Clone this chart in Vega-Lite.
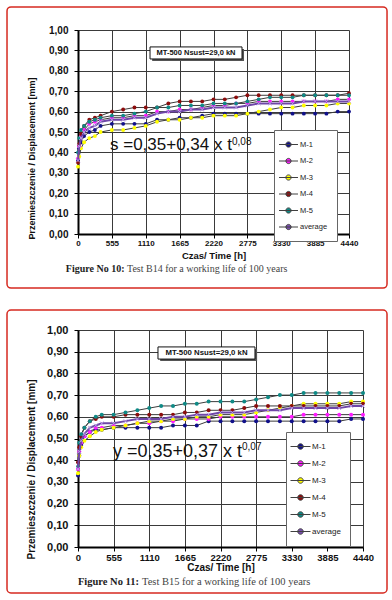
{
"$schema":"https://vega.github.io/schema/vega-lite/v6.json",
"background":"white",
"padding":{"left":6,"top":6,"right":0,"bottom":0},
"config":{"view":{"stroke":null},"font":"Liberation Sans","axis":{"grid":true,"gridColor":"#3a3a3a","gridWidth":1,"gridOpacity":1,"tickSize":4,"tickColor":"#000","domainColor":"#000","domainWidth":2,"labelOverlap":false,"labelFlush":false,"labelFontWeight":"bold","labelColor":"#111","titleFontWeight":"bold","titleColor":"#111"}},
"datasets":{
"b14":[
{"s":"M-1","t":0,"d":0.36},{"s":"M-1","t":20,"d":0.42},{"s":"M-1","t":50,"d":0.45},{"s":"M-1","t":100,"d":0.48},{"s":"M-1","t":185,"d":0.50},{"s":"M-1","t":277,"d":0.51},{"s":"M-1","t":370,"d":0.53},{"s":"M-1","t":555,"d":0.54},{"s":"M-1","t":740,"d":0.54},{"s":"M-1","t":925,"d":0.54},{"s":"M-1","t":1110,"d":0.54},{"s":"M-1","t":1295,"d":0.56},{"s":"M-1","t":1480,"d":0.56},{"s":"M-1","t":1665,"d":0.57},{"s":"M-1","t":1850,"d":0.57},{"s":"M-1","t":2035,"d":0.58},{"s":"M-1","t":2220,"d":0.59},{"s":"M-1","t":2405,"d":0.59},{"s":"M-1","t":2590,"d":0.59},{"s":"M-1","t":2775,"d":0.59},{"s":"M-1","t":2960,"d":0.59},{"s":"M-1","t":3145,"d":0.59},{"s":"M-1","t":3330,"d":0.59},{"s":"M-1","t":3515,"d":0.59},{"s":"M-1","t":3700,"d":0.59},{"s":"M-1","t":3885,"d":0.59},{"s":"M-1","t":4070,"d":0.59},{"s":"M-1","t":4255,"d":0.60},{"s":"M-1","t":4440,"d":0.60},
{"s":"M-2","t":0,"d":0.37},{"s":"M-2","t":20,"d":0.43},{"s":"M-2","t":50,"d":0.48},{"s":"M-2","t":100,"d":0.51},{"s":"M-2","t":185,"d":0.54},{"s":"M-2","t":277,"d":0.55},{"s":"M-2","t":370,"d":0.56},{"s":"M-2","t":555,"d":0.57},{"s":"M-2","t":740,"d":0.57},{"s":"M-2","t":925,"d":0.58},{"s":"M-2","t":1110,"d":0.58},{"s":"M-2","t":1295,"d":0.60},{"s":"M-2","t":1480,"d":0.60},{"s":"M-2","t":1665,"d":0.61},{"s":"M-2","t":1850,"d":0.61},{"s":"M-2","t":2035,"d":0.62},{"s":"M-2","t":2220,"d":0.63},{"s":"M-2","t":2405,"d":0.63},{"s":"M-2","t":2590,"d":0.64},{"s":"M-2","t":2775,"d":0.64},{"s":"M-2","t":2960,"d":0.65},{"s":"M-2","t":3145,"d":0.65},{"s":"M-2","t":3330,"d":0.65},{"s":"M-2","t":3515,"d":0.65},{"s":"M-2","t":3700,"d":0.65},{"s":"M-2","t":3885,"d":0.65},{"s":"M-2","t":4070,"d":0.65},{"s":"M-2","t":4255,"d":0.66},{"s":"M-2","t":4440,"d":0.66},
{"s":"M-3","t":0,"d":0.33},{"s":"M-3","t":20,"d":0.38},{"s":"M-3","t":50,"d":0.42},{"s":"M-3","t":100,"d":0.45},{"s":"M-3","t":185,"d":0.47},{"s":"M-3","t":277,"d":0.48},{"s":"M-3","t":370,"d":0.50},{"s":"M-3","t":555,"d":0.51},{"s":"M-3","t":740,"d":0.51},{"s":"M-3","t":925,"d":0.52},{"s":"M-3","t":1110,"d":0.53},{"s":"M-3","t":1295,"d":0.55},{"s":"M-3","t":1480,"d":0.56},{"s":"M-3","t":1665,"d":0.56},{"s":"M-3","t":1850,"d":0.57},{"s":"M-3","t":2035,"d":0.57},{"s":"M-3","t":2220,"d":0.58},{"s":"M-3","t":2405,"d":0.58},{"s":"M-3","t":2590,"d":0.58},{"s":"M-3","t":2775,"d":0.59},{"s":"M-3","t":2960,"d":0.60},{"s":"M-3","t":3145,"d":0.61},{"s":"M-3","t":3330,"d":0.62},{"s":"M-3","t":3515,"d":0.62},{"s":"M-3","t":3700,"d":0.63},{"s":"M-3","t":3885,"d":0.63},{"s":"M-3","t":4070,"d":0.63},{"s":"M-3","t":4255,"d":0.64},{"s":"M-3","t":4440,"d":0.64},
{"s":"M-4","t":0,"d":0.35},{"s":"M-4","t":20,"d":0.44},{"s":"M-4","t":50,"d":0.49},{"s":"M-4","t":100,"d":0.53},{"s":"M-4","t":185,"d":0.56},{"s":"M-4","t":277,"d":0.57},{"s":"M-4","t":370,"d":0.58},{"s":"M-4","t":555,"d":0.60},{"s":"M-4","t":740,"d":0.61},{"s":"M-4","t":925,"d":0.62},{"s":"M-4","t":1110,"d":0.62},{"s":"M-4","t":1295,"d":0.62},{"s":"M-4","t":1480,"d":0.64},{"s":"M-4","t":1665,"d":0.65},{"s":"M-4","t":1850,"d":0.65},{"s":"M-4","t":2035,"d":0.65},{"s":"M-4","t":2220,"d":0.66},{"s":"M-4","t":2405,"d":0.66},{"s":"M-4","t":2590,"d":0.67},{"s":"M-4","t":2775,"d":0.68},{"s":"M-4","t":2960,"d":0.68},{"s":"M-4","t":3145,"d":0.68},{"s":"M-4","t":3330,"d":0.68},{"s":"M-4","t":3515,"d":0.68},{"s":"M-4","t":3700,"d":0.68},{"s":"M-4","t":3885,"d":0.68},{"s":"M-4","t":4070,"d":0.68},{"s":"M-4","t":4255,"d":0.68},{"s":"M-4","t":4440,"d":0.69},
{"s":"M-5","t":0,"d":0.40},{"s":"M-5","t":20,"d":0.47},{"s":"M-5","t":50,"d":0.51},{"s":"M-5","t":100,"d":0.53},{"s":"M-5","t":185,"d":0.55},{"s":"M-5","t":277,"d":0.56},{"s":"M-5","t":370,"d":0.57},{"s":"M-5","t":555,"d":0.58},{"s":"M-5","t":740,"d":0.58},{"s":"M-5","t":925,"d":0.59},{"s":"M-5","t":1110,"d":0.60},{"s":"M-5","t":1295,"d":0.62},{"s":"M-5","t":1480,"d":0.62},{"s":"M-5","t":1665,"d":0.63},{"s":"M-5","t":1850,"d":0.63},{"s":"M-5","t":2035,"d":0.63},{"s":"M-5","t":2220,"d":0.64},{"s":"M-5","t":2405,"d":0.64},{"s":"M-5","t":2590,"d":0.64},{"s":"M-5","t":2775,"d":0.65},{"s":"M-5","t":2960,"d":0.66},{"s":"M-5","t":3145,"d":0.67},{"s":"M-5","t":3330,"d":0.67},{"s":"M-5","t":3515,"d":0.67},{"s":"M-5","t":3700,"d":0.68},{"s":"M-5","t":3885,"d":0.68},{"s":"M-5","t":4070,"d":0.68},{"s":"M-5","t":4255,"d":0.68},{"s":"M-5","t":4440,"d":0.68},
{"s":"average","t":0,"d":0.36},{"s":"average","t":20,"d":0.43},{"s":"average","t":50,"d":0.47},{"s":"average","t":100,"d":0.50},{"s":"average","t":185,"d":0.52},{"s":"average","t":277,"d":0.53},{"s":"average","t":370,"d":0.55},{"s":"average","t":555,"d":0.56},{"s":"average","t":740,"d":0.56},{"s":"average","t":925,"d":0.57},{"s":"average","t":1110,"d":0.57},{"s":"average","t":1295,"d":0.59},{"s":"average","t":1480,"d":0.60},{"s":"average","t":1665,"d":0.60},{"s":"average","t":1850,"d":0.61},{"s":"average","t":2035,"d":0.61},{"s":"average","t":2220,"d":0.62},{"s":"average","t":2405,"d":0.62},{"s":"average","t":2590,"d":0.62},{"s":"average","t":2775,"d":0.63},{"s":"average","t":2960,"d":0.64},{"s":"average","t":3145,"d":0.64},{"s":"average","t":3330,"d":0.64},{"s":"average","t":3515,"d":0.64},{"s":"average","t":3700,"d":0.65},{"s":"average","t":3885,"d":0.65},{"s":"average","t":4070,"d":0.65},{"s":"average","t":4255,"d":0.65},{"s":"average","t":4440,"d":0.65}
],
"b15":[
{"s":"M-1","t":0,"d":0.33},{"s":"M-1","t":20,"d":0.42},{"s":"M-1","t":50,"d":0.47},{"s":"M-1","t":100,"d":0.51},{"s":"M-1","t":185,"d":0.53},{"s":"M-1","t":277,"d":0.54},{"s":"M-1","t":370,"d":0.54},{"s":"M-1","t":555,"d":0.55},{"s":"M-1","t":740,"d":0.55},{"s":"M-1","t":925,"d":0.55},{"s":"M-1","t":1110,"d":0.55},{"s":"M-1","t":1295,"d":0.55},{"s":"M-1","t":1480,"d":0.56},{"s":"M-1","t":1665,"d":0.56},{"s":"M-1","t":1850,"d":0.56},{"s":"M-1","t":2035,"d":0.58},{"s":"M-1","t":2220,"d":0.58},{"s":"M-1","t":2405,"d":0.58},{"s":"M-1","t":2590,"d":0.58},{"s":"M-1","t":2775,"d":0.58},{"s":"M-1","t":2960,"d":0.58},{"s":"M-1","t":3145,"d":0.58},{"s":"M-1","t":3330,"d":0.58},{"s":"M-1","t":3515,"d":0.58},{"s":"M-1","t":3700,"d":0.58},{"s":"M-1","t":3885,"d":0.58},{"s":"M-1","t":4070,"d":0.58},{"s":"M-1","t":4255,"d":0.59},{"s":"M-1","t":4440,"d":0.59},
{"s":"M-2","t":0,"d":0.36},{"s":"M-2","t":20,"d":0.44},{"s":"M-2","t":50,"d":0.48},{"s":"M-2","t":100,"d":0.51},{"s":"M-2","t":185,"d":0.53},{"s":"M-2","t":277,"d":0.55},{"s":"M-2","t":370,"d":0.55},{"s":"M-2","t":555,"d":0.56},{"s":"M-2","t":740,"d":0.56},{"s":"M-2","t":925,"d":0.57},{"s":"M-2","t":1110,"d":0.57},{"s":"M-2","t":1295,"d":0.58},{"s":"M-2","t":1480,"d":0.58},{"s":"M-2","t":1665,"d":0.59},{"s":"M-2","t":1850,"d":0.59},{"s":"M-2","t":2035,"d":0.59},{"s":"M-2","t":2220,"d":0.60},{"s":"M-2","t":2405,"d":0.60},{"s":"M-2","t":2590,"d":0.60},{"s":"M-2","t":2775,"d":0.60},{"s":"M-2","t":2960,"d":0.60},{"s":"M-2","t":3145,"d":0.60},{"s":"M-2","t":3330,"d":0.60},{"s":"M-2","t":3515,"d":0.61},{"s":"M-2","t":3700,"d":0.61},{"s":"M-2","t":3885,"d":0.61},{"s":"M-2","t":4070,"d":0.61},{"s":"M-2","t":4255,"d":0.61},{"s":"M-2","t":4440,"d":0.61},
{"s":"M-3","t":0,"d":0.34},{"s":"M-3","t":20,"d":0.42},{"s":"M-3","t":50,"d":0.46},{"s":"M-3","t":100,"d":0.49},{"s":"M-3","t":185,"d":0.51},{"s":"M-3","t":277,"d":0.53},{"s":"M-3","t":370,"d":0.54},{"s":"M-3","t":555,"d":0.55},{"s":"M-3","t":740,"d":0.56},{"s":"M-3","t":925,"d":0.57},{"s":"M-3","t":1110,"d":0.58},{"s":"M-3","t":1295,"d":0.58},{"s":"M-3","t":1480,"d":0.59},{"s":"M-3","t":1665,"d":0.59},{"s":"M-3","t":1850,"d":0.60},{"s":"M-3","t":2035,"d":0.60},{"s":"M-3","t":2220,"d":0.61},{"s":"M-3","t":2405,"d":0.61},{"s":"M-3","t":2590,"d":0.61},{"s":"M-3","t":2775,"d":0.62},{"s":"M-3","t":2960,"d":0.63},{"s":"M-3","t":3145,"d":0.64},{"s":"M-3","t":3330,"d":0.65},{"s":"M-3","t":3515,"d":0.66},{"s":"M-3","t":3700,"d":0.66},{"s":"M-3","t":3885,"d":0.66},{"s":"M-3","t":4070,"d":0.66},{"s":"M-3","t":4255,"d":0.67},{"s":"M-3","t":4440,"d":0.67},
{"s":"M-4","t":0,"d":0.39},{"s":"M-4","t":20,"d":0.46},{"s":"M-4","t":50,"d":0.51},{"s":"M-4","t":100,"d":0.55},{"s":"M-4","t":185,"d":0.58},{"s":"M-4","t":277,"d":0.59},{"s":"M-4","t":370,"d":0.60},{"s":"M-4","t":555,"d":0.60},{"s":"M-4","t":740,"d":0.61},{"s":"M-4","t":925,"d":0.61},{"s":"M-4","t":1110,"d":0.61},{"s":"M-4","t":1295,"d":0.61},{"s":"M-4","t":1480,"d":0.61},{"s":"M-4","t":1665,"d":0.62},{"s":"M-4","t":1850,"d":0.62},{"s":"M-4","t":2035,"d":0.63},{"s":"M-4","t":2220,"d":0.63},{"s":"M-4","t":2405,"d":0.63},{"s":"M-4","t":2590,"d":0.64},{"s":"M-4","t":2775,"d":0.65},{"s":"M-4","t":2960,"d":0.65},{"s":"M-4","t":3145,"d":0.65},{"s":"M-4","t":3330,"d":0.65},{"s":"M-4","t":3515,"d":0.65},{"s":"M-4","t":3700,"d":0.65},{"s":"M-4","t":3885,"d":0.65},{"s":"M-4","t":4070,"d":0.65},{"s":"M-4","t":4255,"d":0.66},{"s":"M-4","t":4440,"d":0.66},
{"s":"M-5","t":0,"d":0.37},{"s":"M-5","t":20,"d":0.48},{"s":"M-5","t":50,"d":0.52},{"s":"M-5","t":100,"d":0.55},{"s":"M-5","t":185,"d":0.58},{"s":"M-5","t":277,"d":0.60},{"s":"M-5","t":370,"d":0.61},{"s":"M-5","t":555,"d":0.61},{"s":"M-5","t":740,"d":0.62},{"s":"M-5","t":925,"d":0.63},{"s":"M-5","t":1110,"d":0.64},{"s":"M-5","t":1295,"d":0.65},{"s":"M-5","t":1480,"d":0.65},{"s":"M-5","t":1665,"d":0.66},{"s":"M-5","t":1850,"d":0.66},{"s":"M-5","t":2035,"d":0.67},{"s":"M-5","t":2220,"d":0.67},{"s":"M-5","t":2405,"d":0.67},{"s":"M-5","t":2590,"d":0.67},{"s":"M-5","t":2775,"d":0.68},{"s":"M-5","t":2960,"d":0.69},{"s":"M-5","t":3145,"d":0.70},{"s":"M-5","t":3330,"d":0.70},{"s":"M-5","t":3515,"d":0.71},{"s":"M-5","t":3700,"d":0.71},{"s":"M-5","t":3885,"d":0.71},{"s":"M-5","t":4070,"d":0.71},{"s":"M-5","t":4255,"d":0.71},{"s":"M-5","t":4440,"d":0.71},
{"s":"average","t":0,"d":0.36},{"s":"average","t":20,"d":0.44},{"s":"average","t":50,"d":0.49},{"s":"average","t":100,"d":0.52},{"s":"average","t":185,"d":0.55},{"s":"average","t":277,"d":0.56},{"s":"average","t":370,"d":0.57},{"s":"average","t":555,"d":0.57},{"s":"average","t":740,"d":0.58},{"s":"average","t":925,"d":0.59},{"s":"average","t":1110,"d":0.59},{"s":"average","t":1295,"d":0.59},{"s":"average","t":1480,"d":0.60},{"s":"average","t":1665,"d":0.60},{"s":"average","t":1850,"d":0.61},{"s":"average","t":2035,"d":0.61},{"s":"average","t":2220,"d":0.62},{"s":"average","t":2405,"d":0.62},{"s":"average","t":2590,"d":0.62},{"s":"average","t":2775,"d":0.63},{"s":"average","t":2960,"d":0.63},{"s":"average","t":3145,"d":0.63},{"s":"average","t":3330,"d":0.64},{"s":"average","t":3515,"d":0.64},{"s":"average","t":3700,"d":0.64},{"s":"average","t":3885,"d":0.64},{"s":"average","t":4070,"d":0.64},{"s":"average","t":4255,"d":0.65},{"s":"average","t":4440,"d":0.65}
]
},
"spacing":20,
"resolve":{"scale":{"color":"independent"},"legend":{"color":"independent"}},
"vconcat":[
{
"width":271,"height":204,
"data":{"name":"b14"},
"layer":[
{"transform":[{"filter":"datum.s !== 'average'"}],"mark":{"type":"line","color":"#3c3c3c","strokeWidth":1},
 "encoding":{
  "x":{"field":"t","type":"quantitative","scale":{"domain":[0,4440],"nice":false,"zero":false},"axis":{"title":"Czas/ Time [h]","grid":true,"labelOverlap":false,"values":[0,555,1110,1665,2220,2775,3330,3885,4440],"format":"d","labelFontSize":8,"labelPadding":1,"titleFontSize":9.5,"titlePadding":3}},
  "y":{"field":"d","type":"quantitative","scale":{"domain":[0,1],"nice":false},"axis":{"title":"Przemieszczenie / Displacement [mm]","grid":true,"labelOverlap":false,"values":[0,0.1,0.2,0.3,0.4,0.5,0.6,0.7,0.8,0.9,1],"labelExpr":"replace(format(datum.value,'.2f'),'.',',')","labelFontSize":10,"labelPadding":6,"titleFontSize":9,"titlePadding":12,"titleY":128}},
  "detail":{"field":"s"}}},
{"data":{"values":[{}]},"mark":{"type":"rect","fill":"white","fillOpacity":0,"stroke":"#d62a20","strokeWidth":1.5,"cornerRadius":4},
 "encoding":{"x":{"datum":-1163,"type":"quantitative","axis":{"title":"Czas/ Time [h]","grid":true,"labelOverlap":false,"values":[0,555,1110,1665,2220,2775,3330,3885,4440],"format":"d","labelFontSize":8,"labelPadding":1,"titleFontSize":9.5,"titlePadding":3}},"x2":{"datum":5063},"y":{"datum":1.113,"type":"quantitative","axis":{"title":"Przemieszczenie / Displacement [mm]","grid":true,"labelOverlap":false,"values":[0,0.1,0.2,0.3,0.4,0.5,0.6,0.7,0.8,0.9,1],"labelExpr":"replace(format(datum.value,'.2f'),'.',',')","labelFontSize":10,"labelPadding":6,"titleFontSize":9,"titlePadding":12,"titleY":128}},"y2":{"datum":-0.265}}},
{"transform":[{"filter":"datum.s !== 'average'"}],"mark":{"type":"point","filled":true,"size":15,"opacity":1},
 "encoding":{"x":{"field":"t","type":"quantitative","axis":{"title":"Czas/ Time [h]","grid":true,"labelOverlap":false,"values":[0,555,1110,1665,2220,2775,3330,3885,4440],"format":"d","labelFontSize":8,"labelPadding":1,"titleFontSize":9.5,"titlePadding":3}},"y":{"field":"d","type":"quantitative","axis":{"title":"Przemieszczenie / Displacement [mm]","grid":true,"labelOverlap":false,"values":[0,0.1,0.2,0.3,0.4,0.5,0.6,0.7,0.8,0.9,1],"labelExpr":"replace(format(datum.value,'.2f'),'.',',')","labelFontSize":10,"labelPadding":6,"titleFontSize":9,"titlePadding":12,"titleY":128}},
  "color":{"field":"s","type":"nominal","scale":{"domain":["M-1","M-2","M-3","M-4","M-5","average"],"range":["#10108a","#ff1aff","#ffff00","#8b0d0d","#0f8a86","#7a4fb0"]},
   "legend":{"title":null,"orient":"none","legendX":196,"legendY":100,"strokeColor":"#666","fillColor":"white","padding":9,"symbolType":"M-2,0L2,0M-0.55,0A0.55,0.55,0,1,0,0.55,0A0.55,0.55,0,1,0,-0.55,0Z","symbolSize":90,"symbolStrokeColor":"#404040","symbolStrokeWidth":1,"rowPadding":5.5,"labelFontSize":7.5,"labelColor":"#222","labelOffset":6}}}},
{"transform":[{"filter":"datum.s === 'average'"}],"mark":{"type":"line","color":"#6f47a8","strokeWidth":2},
 "encoding":{"x":{"field":"t","type":"quantitative","axis":{"title":"Czas/ Time [h]","grid":true,"labelOverlap":false,"values":[0,555,1110,1665,2220,2775,3330,3885,4440],"format":"d","labelFontSize":8,"labelPadding":1,"titleFontSize":9.5,"titlePadding":3}},"y":{"field":"d","type":"quantitative","axis":{"title":"Przemieszczenie / Displacement [mm]","grid":true,"labelOverlap":false,"values":[0,0.1,0.2,0.3,0.4,0.5,0.6,0.7,0.8,0.9,1],"labelExpr":"replace(format(datum.value,'.2f'),'.',',')","labelFontSize":10,"labelPadding":6,"titleFontSize":9,"titlePadding":12,"titleY":128}}}},
{"transform":[{"filter":"datum.s === 'average'"}],"mark":{"type":"point","shape":"M-1,-1L1,1M-1,1L1,-1","filled":false,"stroke":"#b89be6","strokeWidth":1,"size":14,"opacity":1},
 "encoding":{"x":{"field":"t","type":"quantitative","axis":{"title":"Czas/ Time [h]","grid":true,"labelOverlap":false,"values":[0,555,1110,1665,2220,2775,3330,3885,4440],"format":"d","labelFontSize":8,"labelPadding":1,"titleFontSize":9.5,"titlePadding":3}},"y":{"field":"d","type":"quantitative","axis":{"title":"Przemieszczenie / Displacement [mm]","grid":true,"labelOverlap":false,"values":[0,0.1,0.2,0.3,0.4,0.5,0.6,0.7,0.8,0.9,1],"labelExpr":"replace(format(datum.value,'.2f'),'.',',')","labelFontSize":10,"labelPadding":6,"titleFontSize":9,"titlePadding":12,"titleY":128}}}},
{"data":{"values":[{}]},"mark":{"type":"rect","fill":"#555","stroke":null},
 "encoding":{"x":{"datum":1215,"type":"quantitative","axis":{"title":"Czas/ Time [h]","grid":true,"labelOverlap":false,"values":[0,555,1110,1665,2220,2775,3330,3885,4440],"format":"d","labelFontSize":8,"labelPadding":1,"titleFontSize":9.5,"titlePadding":3}},"x2":{"datum":2720},"y":{"datum":0.907,"type":"quantitative","axis":{"title":"Przemieszczenie / Displacement [mm]","grid":true,"labelOverlap":false,"values":[0,0.1,0.2,0.3,0.4,0.5,0.6,0.7,0.8,0.9,1],"labelExpr":"replace(format(datum.value,'.2f'),'.',',')","labelFontSize":10,"labelPadding":6,"titleFontSize":9,"titlePadding":12,"titleY":128}},"y2":{"datum":0.848}}},
{"data":{"values":[{}]},"mark":{"type":"rect","fill":"white","stroke":"#111","strokeWidth":1},
 "encoding":{"x":{"datum":1180,"type":"quantitative","axis":{"title":"Czas/ Time [h]","grid":true,"labelOverlap":false,"values":[0,555,1110,1665,2220,2775,3330,3885,4440],"format":"d","labelFontSize":8,"labelPadding":1,"titleFontSize":9.5,"titlePadding":3}},"x2":{"datum":2687},"y":{"datum":0.917,"type":"quantitative","axis":{"title":"Przemieszczenie / Displacement [mm]","grid":true,"labelOverlap":false,"values":[0,0.1,0.2,0.3,0.4,0.5,0.6,0.7,0.8,0.9,1],"labelExpr":"replace(format(datum.value,'.2f'),'.',',')","labelFontSize":10,"labelPadding":6,"titleFontSize":9,"titlePadding":12,"titleY":128}},"y2":{"datum":0.858}}},
{"data":{"values":[{}]},"mark":{"type":"text","text":"MT-500  Nsust=29,0 kN","fontSize":7.5,"fontWeight":"bold","color":"#111","align":"center","baseline":"middle"},
 "encoding":{"x":{"datum":1933,"type":"quantitative","axis":{"title":"Czas/ Time [h]","grid":true,"labelOverlap":false,"values":[0,555,1110,1665,2220,2775,3330,3885,4440],"format":"d","labelFontSize":8,"labelPadding":1,"titleFontSize":9.5,"titlePadding":3}},"y":{"datum":0.887,"type":"quantitative","axis":{"title":"Przemieszczenie / Displacement [mm]","grid":true,"labelOverlap":false,"values":[0,0.1,0.2,0.3,0.4,0.5,0.6,0.7,0.8,0.9,1],"labelExpr":"replace(format(datum.value,'.2f'),'.',',')","labelFontSize":10,"labelPadding":6,"titleFontSize":9,"titlePadding":12,"titleY":128}}}},
{"data":{"values":[{}]},"mark":{"type":"text","text":"s =0,35+0,34 x t","fontSize":17,"color":"#111","align":"left","baseline":"alphabetic"},
 "encoding":{"x":{"datum":524,"type":"quantitative","axis":{"title":"Czas/ Time [h]","grid":true,"labelOverlap":false,"values":[0,555,1110,1665,2220,2775,3330,3885,4440],"format":"d","labelFontSize":8,"labelPadding":1,"titleFontSize":9.5,"titlePadding":3}},"y":{"datum":0.412,"type":"quantitative","axis":{"title":"Przemieszczenie / Displacement [mm]","grid":true,"labelOverlap":false,"values":[0,0.1,0.2,0.3,0.4,0.5,0.6,0.7,0.8,0.9,1],"labelExpr":"replace(format(datum.value,'.2f'),'.',',')","labelFontSize":10,"labelPadding":6,"titleFontSize":9,"titlePadding":12,"titleY":128}}}},
{"data":{"values":[{}]},"mark":{"type":"text","text":"0,08","fontSize":10,"color":"#111","align":"left","baseline":"alphabetic"},
 "encoding":{"x":{"datum":2523,"type":"quantitative","axis":{"title":"Czas/ Time [h]","grid":true,"labelOverlap":false,"values":[0,555,1110,1665,2220,2775,3330,3885,4440],"format":"d","labelFontSize":8,"labelPadding":1,"titleFontSize":9.5,"titlePadding":3}},"y":{"datum":0.436,"type":"quantitative","axis":{"title":"Przemieszczenie / Displacement [mm]","grid":true,"labelOverlap":false,"values":[0,0.1,0.2,0.3,0.4,0.5,0.6,0.7,0.8,0.9,1],"labelExpr":"replace(format(datum.value,'.2f'),'.',',')","labelFontSize":10,"labelPadding":6,"titleFontSize":9,"titlePadding":12,"titleY":128}}}},
{"data":{"values":[{}]},"mark":{"type":"text","text":"Figure No 10:","font":"Liberation Serif","fontSize":10,"fontWeight":"bold","color":"#222","align":"right","baseline":"middle"},
 "encoding":{"x":{"datum":762,"type":"quantitative","axis":{"title":"Czas/ Time [h]","grid":true,"labelOverlap":false,"values":[0,555,1110,1665,2220,2775,3330,3885,4440],"format":"d","labelFontSize":8,"labelPadding":1,"titleFontSize":9.5,"titlePadding":3}},"y":{"datum":-0.172,"type":"quantitative","axis":{"title":"Przemieszczenie / Displacement [mm]","grid":true,"labelOverlap":false,"values":[0,0.1,0.2,0.3,0.4,0.5,0.6,0.7,0.8,0.9,1],"labelExpr":"replace(format(datum.value,'.2f'),'.',',')","labelFontSize":10,"labelPadding":6,"titleFontSize":9,"titlePadding":12,"titleY":128}}}},
{"data":{"values":[{}]},"mark":{"type":"text","text":"Test B14 for a working life of 100 years","font":"Liberation Serif","fontSize":10,"color":"#444","align":"left","baseline":"middle"},
 "encoding":{"x":{"datum":803,"type":"quantitative","axis":{"title":"Czas/ Time [h]","grid":true,"labelOverlap":false,"values":[0,555,1110,1665,2220,2775,3330,3885,4440],"format":"d","labelFontSize":8,"labelPadding":1,"titleFontSize":9.5,"titlePadding":3}},"y":{"datum":-0.172,"type":"quantitative","axis":{"title":"Przemieszczenie / Displacement [mm]","grid":true,"labelOverlap":false,"values":[0,0.1,0.2,0.3,0.4,0.5,0.6,0.7,0.8,0.9,1],"labelExpr":"replace(format(datum.value,'.2f'),'.',',')","labelFontSize":10,"labelPadding":6,"titleFontSize":9,"titlePadding":12,"titleY":128}}}}
]
},
{
"width":285,"height":217,
"data":{"name":"b15"},
"layer":[
{"transform":[{"filter":"datum.s !== 'average'"}],"mark":{"type":"line","color":"#3c3c3c","strokeWidth":1},
 "encoding":{
  "x":{"field":"t","type":"quantitative","scale":{"domain":[0,4440],"nice":false,"zero":false},"axis":{"title":"Czas/ Time [h]","grid":true,"labelOverlap":false,"values":[0,555,1110,1665,2220,2775,3330,3885,4440],"format":"d","labelFontSize":9.5,"labelPadding":1,"titleFontSize":10,"titlePadding":1}},
  "y":{"field":"d","type":"quantitative","scale":{"domain":[0,1],"nice":false},"axis":{"title":"Przemieszczenie / Displacement [mm]","grid":true,"labelOverlap":false,"values":[0,0.1,0.2,0.3,0.4,0.5,0.6,0.7,0.8,0.9,1],"labelExpr":"replace(format(datum.value,'.2f'),'.',',')","labelFontSize":11,"labelPadding":6,"titleFontSize":10,"titlePadding":10,"titleY":139}},
  "detail":{"field":"s"}}},
{"data":{"values":[{}]},"mark":{"type":"rect","fill":"white","fillOpacity":0,"stroke":"#d62a20","strokeWidth":1.5,"cornerRadius":4},
 "encoding":{"x":{"datum":-1106,"type":"quantitative","axis":{"title":"Czas/ Time [h]","grid":true,"labelOverlap":false,"values":[0,555,1110,1665,2220,2775,3330,3885,4440],"format":"d","labelFontSize":9.5,"labelPadding":1,"titleFontSize":10,"titlePadding":1}},"x2":{"datum":4814},"y":{"datum":1.092,"type":"quantitative","axis":{"title":"Przemieszczenie / Displacement [mm]","grid":true,"labelOverlap":false,"values":[0,0.1,0.2,0.3,0.4,0.5,0.6,0.7,0.8,0.9,1],"labelExpr":"replace(format(datum.value,'.2f'),'.',',')","labelFontSize":11,"labelPadding":6,"titleFontSize":10,"titlePadding":10,"titleY":139}},"y2":{"datum":-0.212}}},
{"transform":[{"filter":"datum.s !== 'average'"}],"mark":{"type":"point","filled":true,"size":16,"opacity":1},
 "encoding":{"x":{"field":"t","type":"quantitative","axis":{"title":"Czas/ Time [h]","grid":true,"labelOverlap":false,"values":[0,555,1110,1665,2220,2775,3330,3885,4440],"format":"d","labelFontSize":9.5,"labelPadding":1,"titleFontSize":10,"titlePadding":1}},"y":{"field":"d","type":"quantitative","axis":{"title":"Przemieszczenie / Displacement [mm]","grid":true,"labelOverlap":false,"values":[0,0.1,0.2,0.3,0.4,0.5,0.6,0.7,0.8,0.9,1],"labelExpr":"replace(format(datum.value,'.2f'),'.',',')","labelFontSize":11,"labelPadding":6,"titleFontSize":10,"titlePadding":10,"titleY":139}},
  "color":{"field":"s","type":"nominal","scale":{"domain":["M-1","M-2","M-3","M-4","M-5","average"],"range":["#10108a","#ff1aff","#ffff00","#8b0d0d","#0f8a86","#7a4fb0"]},
   "legend":{"title":null,"orient":"none","legendX":208,"legendY":102,"strokeColor":"#666","fillColor":"white","padding":9,"symbolType":"M-2,0L2,0M-0.55,0A0.55,0.55,0,1,0,0.55,0A0.55,0.55,0,1,0,-0.55,0Z","symbolSize":100,"symbolStrokeColor":"#404040","symbolStrokeWidth":1,"rowPadding":6,"labelFontSize":8,"labelColor":"#222","labelOffset":6}}}},
{"transform":[{"filter":"datum.s === 'average'"}],"mark":{"type":"line","color":"#6f47a8","strokeWidth":2},
 "encoding":{"x":{"field":"t","type":"quantitative","axis":{"title":"Czas/ Time [h]","grid":true,"labelOverlap":false,"values":[0,555,1110,1665,2220,2775,3330,3885,4440],"format":"d","labelFontSize":9.5,"labelPadding":1,"titleFontSize":10,"titlePadding":1}},"y":{"field":"d","type":"quantitative","axis":{"title":"Przemieszczenie / Displacement [mm]","grid":true,"labelOverlap":false,"values":[0,0.1,0.2,0.3,0.4,0.5,0.6,0.7,0.8,0.9,1],"labelExpr":"replace(format(datum.value,'.2f'),'.',',')","labelFontSize":11,"labelPadding":6,"titleFontSize":10,"titlePadding":10,"titleY":139}}}},
{"transform":[{"filter":"datum.s === 'average'"}],"mark":{"type":"point","shape":"M-1,-1L1,1M-1,1L1,-1","filled":false,"stroke":"#b89be6","strokeWidth":1,"size":14,"opacity":1},
 "encoding":{"x":{"field":"t","type":"quantitative","axis":{"title":"Czas/ Time [h]","grid":true,"labelOverlap":false,"values":[0,555,1110,1665,2220,2775,3330,3885,4440],"format":"d","labelFontSize":9.5,"labelPadding":1,"titleFontSize":10,"titlePadding":1}},"y":{"field":"d","type":"quantitative","axis":{"title":"Przemieszczenie / Displacement [mm]","grid":true,"labelOverlap":false,"values":[0,0.1,0.2,0.3,0.4,0.5,0.6,0.7,0.8,0.9,1],"labelExpr":"replace(format(datum.value,'.2f'),'.',',')","labelFontSize":11,"labelPadding":6,"titleFontSize":10,"titlePadding":10,"titleY":139}}}},
{"data":{"values":[{}]},"mark":{"type":"rect","fill":"#555","stroke":null},
 "encoding":{"x":{"datum":1280,"type":"quantitative","axis":{"title":"Czas/ Time [h]","grid":true,"labelOverlap":false,"values":[0,555,1110,1665,2220,2775,3330,3885,4440],"format":"d","labelFontSize":9.5,"labelPadding":1,"titleFontSize":10,"titlePadding":1}},"x2":{"datum":2790},"y":{"datum":0.913,"type":"quantitative","axis":{"title":"Przemieszczenie / Displacement [mm]","grid":true,"labelOverlap":false,"values":[0,0.1,0.2,0.3,0.4,0.5,0.6,0.7,0.8,0.9,1],"labelExpr":"replace(format(datum.value,'.2f'),'.',',')","labelFontSize":11,"labelPadding":6,"titleFontSize":10,"titlePadding":10,"titleY":139}},"y2":{"datum":0.857}}},
{"data":{"values":[{}]},"mark":{"type":"rect","fill":"white","stroke":"#111","strokeWidth":1},
 "encoding":{"x":{"datum":1246,"type":"quantitative","axis":{"title":"Czas/ Time [h]","grid":true,"labelOverlap":false,"values":[0,555,1110,1665,2220,2775,3330,3885,4440],"format":"d","labelFontSize":9.5,"labelPadding":1,"titleFontSize":10,"titlePadding":1}},"x2":{"datum":2757},"y":{"datum":0.922,"type":"quantitative","axis":{"title":"Przemieszczenie / Displacement [mm]","grid":true,"labelOverlap":false,"values":[0,0.1,0.2,0.3,0.4,0.5,0.6,0.7,0.8,0.9,1],"labelExpr":"replace(format(datum.value,'.2f'),'.',',')","labelFontSize":11,"labelPadding":6,"titleFontSize":10,"titlePadding":10,"titleY":139}},"y2":{"datum":0.866}}},
{"data":{"values":[{}]},"mark":{"type":"text","text":"MT-500  Nsust=29,0 kN","fontSize":7.8,"fontWeight":"bold","color":"#111","align":"center","baseline":"middle"},
 "encoding":{"x":{"datum":2002,"type":"quantitative","axis":{"title":"Czas/ Time [h]","grid":true,"labelOverlap":false,"values":[0,555,1110,1665,2220,2775,3330,3885,4440],"format":"d","labelFontSize":9.5,"labelPadding":1,"titleFontSize":10,"titlePadding":1}},"y":{"datum":0.894,"type":"quantitative","axis":{"title":"Przemieszczenie / Displacement [mm]","grid":true,"labelOverlap":false,"values":[0,0.1,0.2,0.3,0.4,0.5,0.6,0.7,0.8,0.9,1],"labelExpr":"replace(format(datum.value,'.2f'),'.',',')","labelFontSize":11,"labelPadding":6,"titleFontSize":10,"titlePadding":10,"titleY":139}}}},
{"data":{"values":[{}]},"mark":{"type":"text","text":"y =0,35+0,37 x t","fontSize":18,"color":"#111","align":"left","baseline":"alphabetic"},
 "encoding":{"x":{"datum":545,"type":"quantitative","axis":{"title":"Czas/ Time [h]","grid":true,"labelOverlap":false,"values":[0,555,1110,1665,2220,2775,3330,3885,4440],"format":"d","labelFontSize":9.5,"labelPadding":1,"titleFontSize":10,"titlePadding":1}},"y":{"datum":0.415,"type":"quantitative","axis":{"title":"Przemieszczenie / Displacement [mm]","grid":true,"labelOverlap":false,"values":[0,0.1,0.2,0.3,0.4,0.5,0.6,0.7,0.8,0.9,1],"labelExpr":"replace(format(datum.value,'.2f'),'.',',')","labelFontSize":11,"labelPadding":6,"titleFontSize":10,"titlePadding":10,"titleY":139}}}},
{"data":{"values":[{}]},"mark":{"type":"text","text":"0,07","fontSize":10,"color":"#111","align":"left","baseline":"alphabetic"},
 "encoding":{"x":{"datum":2555,"type":"quantitative","axis":{"title":"Czas/ Time [h]","grid":true,"labelOverlap":false,"values":[0,555,1110,1665,2220,2775,3330,3885,4440],"format":"d","labelFontSize":9.5,"labelPadding":1,"titleFontSize":10,"titlePadding":1}},"y":{"datum":0.447,"type":"quantitative","axis":{"title":"Przemieszczenie / Displacement [mm]","grid":true,"labelOverlap":false,"values":[0,0.1,0.2,0.3,0.4,0.5,0.6,0.7,0.8,0.9,1],"labelExpr":"replace(format(datum.value,'.2f'),'.',',')","labelFontSize":11,"labelPadding":6,"titleFontSize":10,"titlePadding":10,"titleY":139}}}},
{"data":{"values":[{}]},"mark":{"type":"text","text":"Figure No 11:","font":"Liberation Serif","fontSize":10.5,"fontWeight":"bold","color":"#222","align":"right","baseline":"middle"},
 "encoding":{"x":{"datum":950,"type":"quantitative","axis":{"title":"Czas/ Time [h]","grid":true,"labelOverlap":false,"values":[0,555,1110,1665,2220,2775,3330,3885,4440],"format":"d","labelFontSize":9.5,"labelPadding":1,"titleFontSize":10,"titlePadding":1}},"y":{"datum":-0.161,"type":"quantitative","axis":{"title":"Przemieszczenie / Displacement [mm]","grid":true,"labelOverlap":false,"values":[0,0.1,0.2,0.3,0.4,0.5,0.6,0.7,0.8,0.9,1],"labelExpr":"replace(format(datum.value,'.2f'),'.',',')","labelFontSize":11,"labelPadding":6,"titleFontSize":10,"titlePadding":10,"titleY":139}}}},
{"data":{"values":[{}]},"mark":{"type":"text","text":"Test B15 for a working life of 100 years","font":"Liberation Serif","fontSize":10.5,"color":"#444","align":"left","baseline":"middle"},
 "encoding":{"x":{"datum":997,"type":"quantitative","axis":{"title":"Czas/ Time [h]","grid":true,"labelOverlap":false,"values":[0,555,1110,1665,2220,2775,3330,3885,4440],"format":"d","labelFontSize":9.5,"labelPadding":1,"titleFontSize":10,"titlePadding":1}},"y":{"datum":-0.161,"type":"quantitative","axis":{"title":"Przemieszczenie / Displacement [mm]","grid":true,"labelOverlap":false,"values":[0,0.1,0.2,0.3,0.4,0.5,0.6,0.7,0.8,0.9,1],"labelExpr":"replace(format(datum.value,'.2f'),'.',',')","labelFontSize":11,"labelPadding":6,"titleFontSize":10,"titlePadding":10,"titleY":139}}}}
]
}
]
}
